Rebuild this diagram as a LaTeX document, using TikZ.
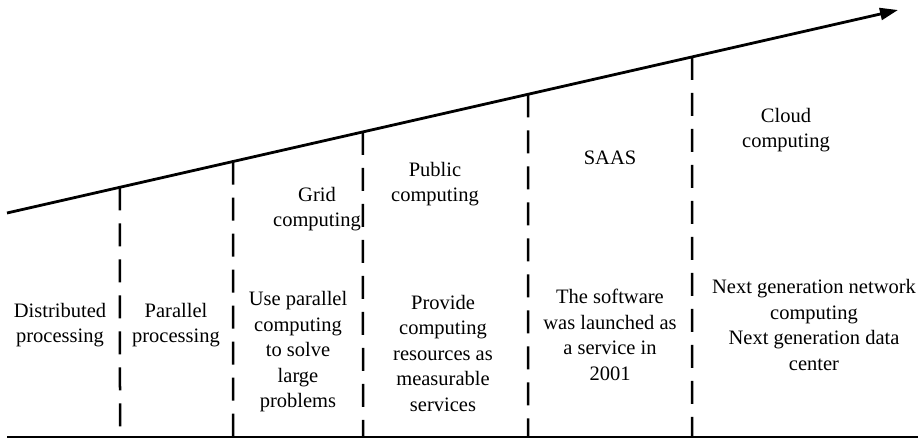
\documentclass[tikz,border=0pt]{standalone}
\usepackage{fontspec}
\setmainfont{Liberation Serif}
\usetikzlibrary{arrows.meta,calc}
\begin{document}
\begin{tikzpicture}[x=1pt,y=-1pt,
  mainline/.style={line width=2.8pt},
  divider/.style={line width=2.5pt, dash pattern=on 23pt off 13pt},
  lbl/.style={align=center, inner sep=0pt, font=\fontsize{20.5}{25.5}\selectfont}]
\useasboundingbox (0,0) rectangle (921,439);
% main rising line
\coordinate (s) at (7,213);
\coordinate (e) at (898,10);
\draw[mainline, -{Triangle[length=18pt,width=12pt]}] (s) -- (e);
% points on main line and bottom
\foreach \n/\x in {a/120,b/233,c/363,d/528,f/692}{
  \coordinate (\n t) at ($(s)!{(\x-7)/891}!(e)$);
  \coordinate (\n b) at (\x,437);
}
\foreach \n in {a,b,c,d,f}{
  \draw[divider] (\n t) -- (\n b);
}
% bottom line
\coordinate (bl) at (7,437);
\coordinate (br) at (918,437);
\draw[mainline] (bl) -- (br);
% labels
\node[lbl] (t1) at (60,325) {Distributed\\processing};
\node[lbl] (t2) at (176,325) {Parallel\\processing};
\node[lbl] (t3h) at (317,209) {Grid\\computing};
\node[lbl] (t3) at (298,352) {Use parallel\\computing\\to solve\\large\\problems};
\node[lbl] (t4h) at (435,184) {Public\\computing};
\node[lbl] (t4) at (443,353) {Provide\\computing\\resources as\\measurable\\services};
\node[lbl] (t5h) at (610,158) {SAAS};
\node[lbl] (t5) at (610,335) {The software\\was launched as\\a service in\\2001};
\node[lbl] (t6h) at (786,130) {Cloud\\computing};
\node[lbl] (t6) at (814,325) {Next generation network\\computing\\Next generation data\\center};
\end{tikzpicture}
\end{document}
